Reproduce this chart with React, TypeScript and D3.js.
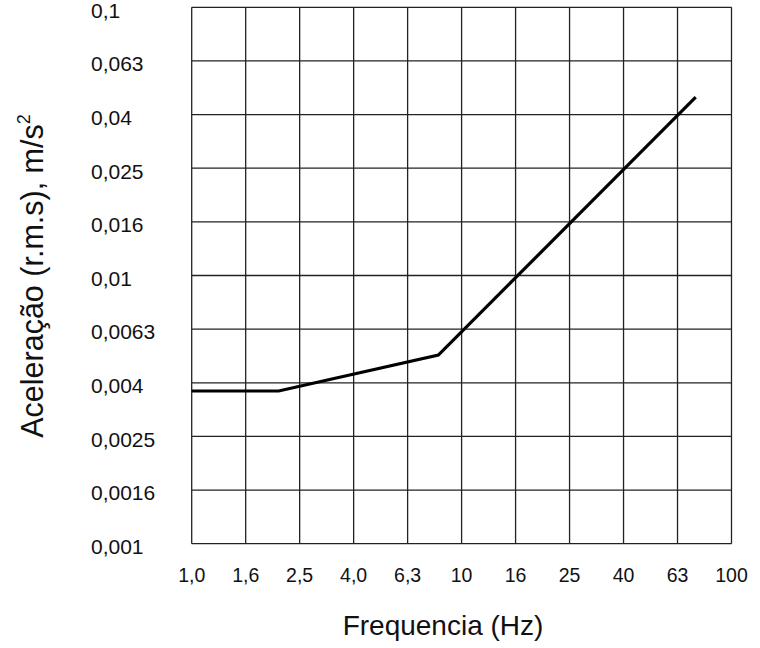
import React from "react";
import * as d3 from "d3";

// Frequency ticks (Hz) and their printed labels
const freqTicks = [1, 1.6, 2.5, 4, 6.3, 10, 16, 25, 40, 63, 100];
const freqLabels = ["1,0", "1,6", "2,5", "4,0", "6,3", "10", "16", "25", "40", "63", "100"];

// Acceleration ticks (m/s², r.m.s) and their printed labels
const accTicks = [0.001, 0.0016, 0.0025, 0.004, 0.0063, 0.01, 0.016, 0.025, 0.04, 0.063, 0.1];
const accLabels = ["0,001", "0,0016", "0,0025", "0,004", "0,0063", "0,01", "0,016", "0,025", "0,04", "0,063", "0,1"];

// Limit curve
const curveFreq = [1, 2.1, 8.2, 73.7];
const curveAcc = [0.00371, 0.00371, 0.00505, 0.0462];

const W = 760;
const H = 648;
const left = 191.7;
const right = 731.5;
const top = 7.3;
const bottom = 543.7;

export default function App() {
  const x = d3.scaleLog().domain([1, 100]).range([left, right]);
  const y = d3.scaleLog().domain([0.001, 0.1]).range([bottom, top]);

  // grid positions follow the preferred-number steps (10^(i/5))
  const gx = (i: number) => x(Math.pow(10, i / 5));
  const gy = (i: number) => y(Math.pow(10, -3 + i / 5));

  const pts = curveFreq.map((f, i) => [x(f), y(curveAcc[i])] as [number, number]);
  const line = d3.line()(pts) || "";

  const font = "'Liberation Sans', Arial, sans-serif";

  return (
    <svg
      width={W}
      height={H}
      style={{ position: "absolute", left: 0, top: 0, background: "#fff" }}
      fontFamily={font}
    >
      <rect x={0} y={0} width={W} height={H} fill="#fff" />
      {/* grid */}
      {freqTicks.map((_, i) => (
        <line
          key={"vx" + i}
          x1={gx(i)}
          x2={gx(i)}
          y1={top}
          y2={bottom}
          stroke="#222"
          strokeWidth={1.3}
        />
      ))}
      {accTicks.map((_, i) => (
        <line
          key={"hy" + i}
          x1={left}
          x2={right}
          y1={gy(i)}
          y2={gy(i)}
          stroke="#222"
          strokeWidth={1.3}
        />
      ))}
      {/* curve */}
      <path d={line} fill="none" stroke="#000" strokeWidth={3.2} strokeLinejoin="miter" />
      {/* y tick labels */}
      {accLabels.map((t, i) => (
        <text
          key={"yl" + i}
          x={91}
          y={gy(i) + 3}
          dy="0.35em"
          fontSize={21}
          fill="#111"
          textAnchor="start"
        >
          {t}
        </text>
      ))}
      {/* x tick labels */}
      {freqLabels.map((t, i) => (
        <text
          key={"xl" + i}
          x={gx(i)}
          y={582}
          fontSize={19.5}
          fill="#111"
          textAnchor="middle"
        >
          {t}
        </text>
      ))}
      {/* axis titles */}
      <text x={443} y={635} fontSize={28} fill="#111" textAnchor="middle">
        Frequencia (Hz)
      </text>
      <text
        transform="translate(43,276) rotate(-90)"
        fontSize={30.5}
        fill="#111"
        textAnchor="middle"
      >
        Aceleração (r.m.s), m/s
        <tspan fontSize={18} dy={-13}>
          2
        </tspan>
      </text>
    </svg>
  );
}
